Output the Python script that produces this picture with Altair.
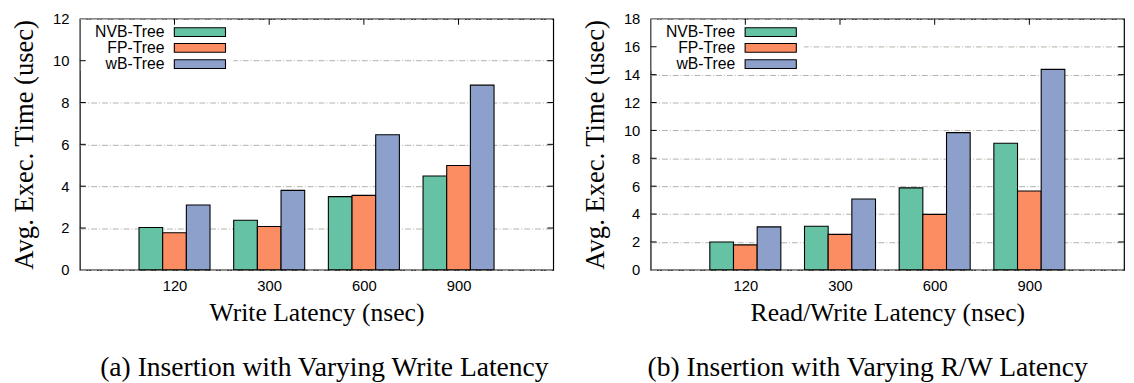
import altair as alt
import pandas as pd

latencies = ["120", "300", "600", "900"]
series = ["NVB-Tree", "FP-Tree", "wB-Tree"]
colors = ["#66c2a5", "#fc8d62", "#8da0cb"]

write_nvb = [2.02, 2.37, 3.50, 4.49]
write_fp = [1.77, 2.07, 3.56, 4.99]
write_wb = [3.10, 3.80, 6.46, 8.83]

rw_nvb = [2.00, 3.13, 5.88, 9.08]
rw_fp = [1.79, 2.54, 3.98, 5.65]
rw_wb = [3.08, 5.08, 9.84, 14.38]

y_ticks_a = [0, 2, 4, 6, 8, 10, 12]
y_ticks_b = [0, 2, 4, 6, 8, 10, 12, 14, 16, 18]

W = 481
H = 255
SANS = "Liberation Sans"
SERIF = "Liberation Serif"
GRID = "#b0b0a8"


def make_df(vals):
    rows = []
    for s, (name, arr) in enumerate(zip(series, vals)):
        for g, v in enumerate(arr):
            rows.append({"g": g, "s": s, "series": name, "value": v})
    return pd.DataFrame(rows)


def panel(vals, yticks, xtitle, caption, cap_dx):
    df = make_df(vals)
    ymax = yticks[-1]
    xscale = alt.Scale(domain=[-1, 4], nice=False, zero=False)
    yscale = alt.Scale(domain=[0, ymax], nice=False)
    label_expr = "[" + ",".join("'%s'" % l for l in latencies) + "][datum.value]"

    xaxis = alt.Axis(values=list(range(len(latencies))), labelExpr=label_expr,
                     title=xtitle, grid=False, ticks=False, tickSize=0, domain=False,
                     labelFont=SANS, labelFontSize=15, labelColor="black",
                     labelPadding=9, labelFlush=False, labelOverlap=False,
                     titleFont=SERIF, titleFontSize=26, titleFontWeight="normal",
                     titleColor="black", titlePadding=6)
    yaxis = alt.Axis(values=yticks, title="Avg. Exec. Time (usec)", grid=True,
                     gridDash=[6, 2, 1, 2], gridColor=GRID, gridWidth=1,
                     ticks=False, tickSize=0, domain=False,
                     labelFont=SANS, labelFontSize=15, labelColor="black",
                     labelPadding=11, labelFlush=False, labelOverlap=False,
                     titleFont=SERIF, titleFontSize=27, titleFontWeight="normal",
                     titleColor="black", titlePadding=14)

    bars = alt.Chart(df).transform_calculate(
        c="datum.g + (datum.s - 1) * 0.25"
    ).transform_calculate(
        x1="datum.c - 0.125", x2="datum.c + 0.125"
    ).mark_bar(stroke="black", strokeWidth=1.1, opacity=1).encode(
        x=alt.X("x1:Q", scale=xscale, axis=xaxis, title=xtitle),
        x2="x2:Q",
        y=alt.Y("value:Q", scale=yscale, axis=yaxis, title="Avg. Exec. Time (usec)"),
        y2=alt.datum(0),
        fill=alt.Color("series:N", scale=alt.Scale(domain=series, range=colors), legend=None),
    )

    layers = [bars]

    # opaque key background
    layers.append(alt.Chart(pd.DataFrame({"k": [0]})).mark_rect(fill="white").encode(
        x=alt.value(1), x2=alt.value(156), y=alt.value(1), y2=alt.value(53)))

    # key entries
    centers = [13.5, 29.5, 46]
    for name, col, cy in zip(series, colors, centers):
        d = pd.DataFrame({"series": [name]})
        layers.append(alt.Chart(d).mark_rect(fill=col, stroke="black", strokeWidth=1.1).encode(
            x=alt.value(96), x2=alt.value(148), y=alt.value(cy - 4.5), y2=alt.value(cy + 4.5)))
        layers.append(alt.Chart(d).mark_text(align="right", baseline="middle", font=SANS,
                                             fontSize=16, color="black").encode(
            x=alt.value(86), y=alt.value(cy), text="series:N"))

    # inward ticks: left, right, top
    tdf = pd.DataFrame({"value": yticks[1:-1]})
    layers.append(alt.Chart(tdf).mark_rule(color="black", strokeWidth=1).encode(
        y=alt.Y("value:Q", scale=yscale, axis=yaxis, title="Avg. Exec. Time (usec)"),
        x=alt.value(0), x2=alt.value(6)))
    layers.append(alt.Chart(tdf).mark_rule(color="black", strokeWidth=1).encode(
        y=alt.Y("value:Q", scale=yscale, axis=yaxis, title="Avg. Exec. Time (usec)"),
        x=alt.value(W - 6), x2=alt.value(W)))
    gdf = pd.DataFrame({"x1": list(range(len(latencies)))})
    layers.append(alt.Chart(gdf).mark_rule(color="black", strokeWidth=1).encode(
        x=alt.X("x1:Q", scale=xscale, axis=xaxis, title=xtitle),
        y=alt.value(0), y2=alt.value(6)))

    return alt.layer(*layers).properties(
        width=W, height=H,
        title=alt.TitleParams(caption, orient="bottom", font=SERIF, fontSize=28,
                              fontWeight="normal", color="black", offset=30, dx=cap_dx),
    )


left = panel([write_nvb, write_fp, write_wb], y_ticks_a, "Write Latency (nsec)",
             "(a) Insertion with Varying Write Latency", 8)
right = panel([rw_nvb, rw_fp, rw_wb], y_ticks_b, "Read/Write Latency (nsec)",
              "(b) Insertion with Varying R/W Latency", -20)

chart = alt.hconcat(left, right, spacing=26).properties(
    padding={"left": 2, "top": 0, "right": 0, "bottom": 0},
    background="white",
).configure_view(stroke="black", strokeWidth=1.2)

chart.save("out.html", embed_options={"renderer": "svg", "actions": False})
